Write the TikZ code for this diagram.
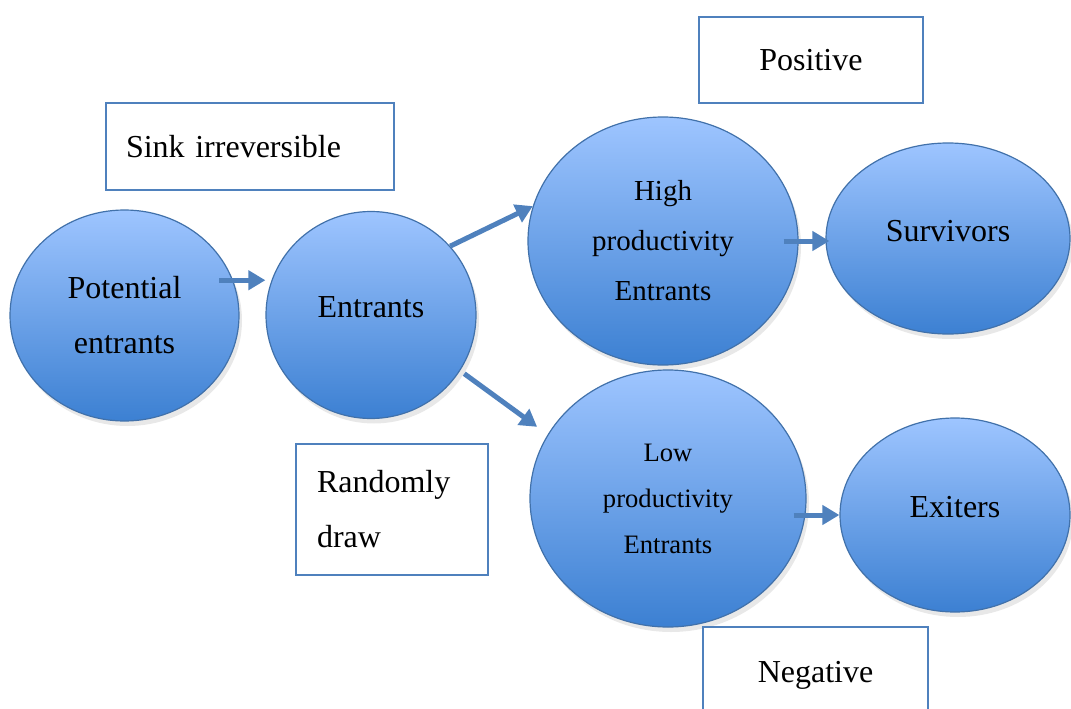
\documentclass[tikz,border=0pt]{standalone}
\usepackage{fontspec}
\setmainfont{Liberation Serif}
\usetikzlibrary{arrows.meta,shapes.geometric,shadows,positioning}
\definecolor{lineblue}{RGB}{79,129,189}
\definecolor{rimblue}{RGB}{65,113,170}
\definecolor{topblue}{RGB}{158,197,255}
\definecolor{botblue}{RGB}{60,128,210}
\tikzset{
  bubble/.style={ellipse, draw=rimblue, line width=1.2pt,
    top color=topblue, bottom color=botblue, inner sep=0pt, align=center,
    drop shadow={opacity=0.18, shadow xshift=3pt, shadow yshift=-5pt}},
  tag/.style={rectangle, draw=lineblue, line width=1.8pt, fill=white, inner sep=0pt},
  flow/.style={draw=lineblue, line width=5pt, -{Triangle[length=17pt,width=19pt]}},
  big/.style={font=\fontsize{32}{55}\selectfont},
}

\begin{document}
\begin{tikzpicture}[x=1pt,y=-1pt]
  \useasboundingbox (0,0) rectangle (1071,709);
  %bubbles
  \node[bubble, big, minimum width=229pt, minimum height=211pt] (pot) at (124.5,315.5)
      {Potential\\entrants};
  \node[bubble, big, text depth=16pt, minimum width=210pt, minimum height=207pt] (ent)
      at (371,315) {Entrants};
  \node[bubble, font=\fontsize{29}{50}\selectfont, minimum width=270pt, minimum height=248pt]
      (high) at (663,241) {High\\productivity\\Entrants};
  \node[bubble, font=\fontsize{26.6}{46}\selectfont, minimum width=276pt, minimum height=257pt]
      (low) at (668,498.5) {Low\\productivity\\Entrants};
  \node[bubble, big, text depth=16pt, minimum width=244pt, minimum height=191pt] (surv)
      at (948,238.5) {Survivors};
  \node[bubble, big, text depth=16pt, minimum width=230pt, minimum height=194pt] (exit)
      at (955,515) {Exiters};
  %boxes
  \node[tag, big, minimum height=87pt, text width=248pt, inner xsep=20pt, align=left]
      (sink) at (250,146.5) {Sink irreversible};
  \node[tag, big, minimum width=224pt, minimum height=86pt] (pos) at (811,60) {Positive};
  \node[tag, big, minimum height=131pt, text width=150pt, inner xsep=21pt, align=left]
      (rand) at (392,509.5) {Randomly\\draw};
  \node[tag, big, text height=32pt, minimum width=225pt, minimum height=86pt] (neg)
      at (815.5,670) {Negative};
  %arrows
  \draw[flow, shorten <=-14pt] (pot.18) -- (pot.18 -| ent.west);
  \draw[flow] (ent.41) -- (high.165);
  \draw[flow, shorten <=5pt, shorten >=13pt] (ent.-32) -- (low.152);
  \draw[flow, shorten <=-15pt, shorten >=-4pt] (high.east) -- (high.east -| surv.west);
  \draw[flow, shorten <=-13pt] (low.east |- exit.west) -- (exit.west);
\end{tikzpicture}
\end{document}
